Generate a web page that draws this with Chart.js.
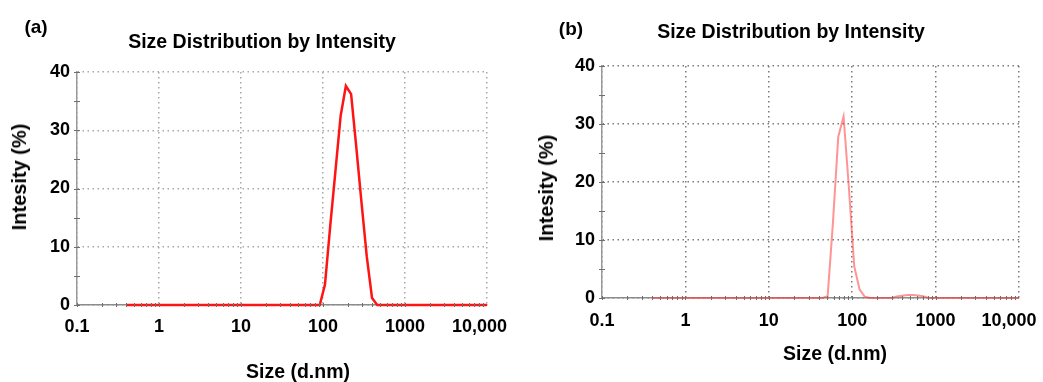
<!DOCTYPE html>
<html>
<head>
<meta charset="utf-8">
<script src="https://cdn.jsdelivr.net/npm/chart.js@4.4.1/dist/chart.umd.min.js"></script>
<style>
  html, body { margin: 0; padding: 0; background: #fff; }
  body { width: 1043px; height: 382px; position: relative; overflow: hidden; font-family: "Liberation Sans", Arial, sans-serif; }
  .panel { position: absolute; top: 0; height: 382px; }
  .txt { position: absolute; font-weight: bold; color: #000; white-space: nowrap; line-height: 1; transform: translate(-50%, -50%); }
  .rot { transform: translate(-50%, -50%) rotate(-90deg); }
</style>
</head>
<body>
<div class="panel" style="left:0;width:520px"><canvas id="chartA"></canvas></div>
<div class="panel" style="left:520px;width:523px"><canvas id="chartB"></canvas></div>

<div class="txt" style="left:36px;top:26px;font-size:19px">(a)</div>
<div class="txt" style="left:262px;top:42px;font-size:19.5px">Size Distribution by Intensity</div>
<div class="txt rot" style="left:19px;top:177px;font-size:20px">Intesity (%)</div>
<div class="txt" style="left:298px;top:372px;font-size:19.5px">Size (d.nm)</div>

<div class="txt" style="left:571px;top:28px;font-size:19px">(b)</div>
<div class="txt" style="left:791px;top:32px;font-size:19.5px">Size Distribution by Intensity</div>
<div class="txt rot" style="left:546px;top:188px;font-size:20px">Intesity (%)</div>
<div class="txt" style="left:835px;top:354px;font-size:19.5px">Size (d.nm)</div>

<script>
// size bins (d.nm)
const sizes = [
  0.4, 0.4632, 0.5365, 0.6213, 0.7195, 0.8332, 0.9649, 1.117, 1.294, 1.499,
  1.736, 2.01, 2.328, 2.696, 3.122, 3.615, 4.187, 4.849, 5.615, 6.503,
  7.531, 8.721, 10.1, 11.7, 13.54, 15.69, 18.17, 21.04, 24.36, 28.21,
  32.67, 37.84, 43.82, 50.75, 58.77, 68.06, 78.82, 91.28, 105.7, 122.4,
  141.8, 164.2, 190.1, 220.2, 255.0, 295.3, 342.0, 396.1, 458.7, 531.2,
  615.1, 712.4, 825.0, 955.4, 1106, 1281, 1484, 1718, 1990, 2305,
  2669, 3091, 3580, 4145, 4801, 5560, 6439, 7456, 8635, 10000
];

// intensity (%) for panel (a)
const intensityA = [
  0, 0, 0, 0, 0, 0, 0, 0, 0, 0,
  0, 0, 0, 0, 0, 0, 0, 0, 0, 0,
  0, 0, 0, 0, 0, 0, 0, 0, 0, 0,
  0, 0, 0, 0, 0, 0, 0, 0, 3.5, 13.5,
  23, 32.5, 37.6, 36.2, 27, 17.5, 8.3, 1.2, 0, 0,
  0, 0, 0, 0, 0, 0, 0, 0, 0, 0,
  0, 0, 0, 0, 0, 0, 0, 0, 0, 0
];

// intensity (%) for panel (b)
const intensityB = [
  0, 0, 0, 0, 0, 0, 0, 0, 0, 0,
  0, 0, 0, 0, 0, 0, 0, 0, 0, 0,
  0, 0, 0, 0, 0, 0, 0, 0, 0, 0,
  0, 0, 0, 0.3, 13, 27.8, 31.3, 19, 5.5, 1.5,
  0.2, 0, 0, 0, 0, 0, 0.25, 0.4, 0.5, 0.5,
  0.45, 0.3, 0, 0, 0, 0, 0, 0, 0, 0,
  0, 0, 0, 0, 0, 0, 0, 0, 0, 0
];

const xTicks = [0.1, 1, 10, 100, 1000, 10000];
const xTickLabels = ['0.1', '1', '10', '100', '1000', '10,000'];
const yTicks = [0, 10, 20, 30, 40];

const tickFont = { family: 'Liberation Sans', size: 18, weight: 'bold' };

// small tick marks on both axes, drawn over the line
const axisMarks = {
  id: 'axisMarks',
  afterDatasetsDraw(chart, args, opts) {
    const { ctx, chartArea, scales: { x, y } } = chart;
    ctx.save();
    ctx.strokeStyle = opts.color;
    ctx.lineWidth = 1;
    ctx.beginPath();
    for (let e = -1; e < 4; e++) {
      for (let k = 1; k < 10; k++) {
        const px = Math.round(x.getPixelForValue(k * Math.pow(10, e))) + 0.5;
        ctx.moveTo(px, chartArea.bottom - 2);
        ctx.lineTo(px, chartArea.bottom + 2);
      }
    }
    for (let v = yTicks[0]; v <= yTicks[yTicks.length - 1]; v += 5) {
      const py = Math.round(y.getPixelForValue(v)) + 0.5;
      ctx.moveTo(chartArea.left - 3, py);
      ctx.lineTo(chartArea.left + 3, py);
    }
    ctx.stroke();
    ctx.restore();
  }
};

function buildPanel(el, values, look) {
  return new Chart(el, {
    type: 'line',
    data: {
      datasets: [{
        data: sizes.map((s, i) => ({ x: s, y: values[i] })),
        borderColor: look.lineColor,
        borderWidth: look.lineWidth,
        pointRadius: 0,
        tension: 0,
        clip: 6
      }]
    },
    options: {
      animation: false,
      responsive: true,
      maintainAspectRatio: false,
      layout: { padding: look.padding },
      scales: {
        x: {
          type: 'logarithmic',
          min: 0.1,
          max: 10000,
          afterBuildTicks: (axis) => { axis.ticks = xTicks.map((v) => ({ value: v })); },
          afterFit: (axis) => {
            axis.height = 40;
            axis.paddingLeft = 0;
            axis.paddingRight = 0;
          },
          grid: { color: look.gridColor, lineWidth: 1.5, drawTicks: false },
          border: { display: true, color: '#8c8c8c', width: 1.5, dash: [1.5, 3.5] },
          ticks: {
            font: tickFont,
            color: '#000',
            padding: look.xPad,
            maxRotation: 0,
            autoSkip: false,
            callback: (value, index) => index === xTicks.length - 1
              ? xTickLabels[index] + ' '.repeat(look.lastShift)
              : xTickLabels[index]
          }
        },
        y: {
          min: 0,
          max: 40,
          afterBuildTicks: (axis) => { axis.ticks = yTicks.map((v) => ({ value: v })); },
          afterFit: (axis) => { axis.width = look.yWidth; },
          grid: { color: look.gridColor, lineWidth: 1.5, drawTicks: false },
          border: { display: true, color: '#999', width: 1.5, dash: [1.5, 3.5] },
          ticks: { font: tickFont, color: '#000', padding: 7 }
        }
      },
      plugins: {
        legend: { display: false },
        tooltip: { enabled: false },
        axisMarks: { color: '#6f6f6f' }
      }
    },
    plugins: [axisMarks]
  });
}

buildPanel(document.getElementById('chartA'), intensityA, {
  lineColor: '#ff1414',
  lineWidth: 2.5,
  gridColor: '#a8a8a8',
  padding: { left: 0, top: 72, right: 33, bottom: 37 },
  yWidth: 77,
  xPad: 11,
  lastShift: 3
});

buildPanel(document.getElementById('chartB'), intensityB, {
  lineColor: 'rgba(255, 60, 60, 0.55)',
  lineWidth: 2,
  gridColor: '#7a7a7a',
  padding: { left: 0, top: 66, right: 24, bottom: 44 },
  yWidth: 82,
  xPad: 12,
  lastShift: 4
});
</script>
</body>
</html>
